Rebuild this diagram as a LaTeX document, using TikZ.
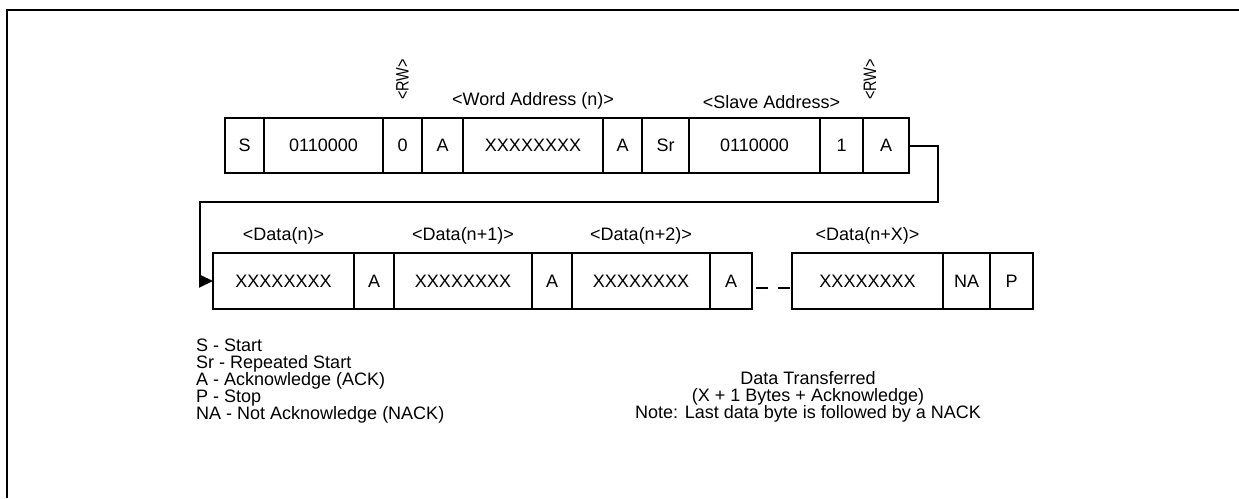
\documentclass[tikz,border=0pt]{standalone}
\usepackage{fontspec}
\setmainfont{Liberation Sans}
\usetikzlibrary{arrows.meta, positioning}
\newcommand{\cellfont}{\fontsize{18}{17}\selectfont}
\tikzset{
  field/.style={rectangle, draw=black, line width=2pt, minimum height=55pt,
    inner sep=0pt, outer sep=0pt, font=\cellfont},
  tag/.style={font=\cellfont, inner sep=0pt},
  arrow/.style={-{Triangle[length=14pt, width=13pt]}, line width=2pt},
  gap/.style={line width=2pt, dash pattern=on 12pt off 10pt}
}

\begin{document}
\begin{tikzpicture}[x=1pt, y=-1pt]
  \useasboundingbox (0,0) rectangle (1239,498);
  \draw[line width=2pt] (7,498) -- (7,10) -- (1239,10);
  % write word address, then repeated start and read
  \node[field, minimum width=39pt, anchor=west] (a1) at (225,145.5) {S};
  \node[field, minimum width=119pt, right=0pt of a1] (a2) {0110000};
  \node[field, minimum width=39pt, right=0pt of a2] (a3) {0};
  \node[field, minimum width=41pt, right=0pt of a3] (a4) {A};
  \node[field, minimum width=140pt, right=0pt of a4] (a5) {XXXXXXXX};
  \node[field, minimum width=39pt, right=0pt of a5] (a6) {A};
  \node[field, minimum width=47pt, right=0pt of a6] (a7) {Sr};
  \node[field, minimum width=131pt, right=0pt of a7] (a8) {0110000};
  \node[field, minimum width=43pt, right=0pt of a8] (a9) {1};
  \node[field, minimum width=46pt, right=0pt of a9] (a10) {A};
  \node[tag, above=18pt of a3, rotate=90, anchor=west] (rw1) {\scalebox{0.8}[1]{<RW>}};
  \node[tag, above=9pt of a5] (wordaddr) {<Word Address (n)>};
  \node[tag, above=9pt of a8, xshift=17pt] (slaveaddr) {<Slave Address>};
  \node[tag, above=18pt of a10, xshift=-16pt, rotate=90, anchor=west] (rw2) {\scalebox{0.8}[1]{<RW>}};
  % data bytes
  \node[field, minimum height=56pt, minimum width=141pt, anchor=west] (b1) at (213,281) {XXXXXXXX};
  \node[field, minimum height=56pt, minimum width=40pt, right=0pt of b1] (b2) {A};
  \node[field, minimum height=56pt, minimum width=138pt, right=0pt of b2] (b3) {XXXXXXXX};
  \node[field, minimum height=56pt, minimum width=40pt, right=0pt of b3] (b4) {A};
  \node[field, minimum height=56pt, minimum width=138pt, right=0pt of b4] (b5) {XXXXXXXX};
  \node[field, minimum height=56pt, minimum width=42pt, right=0pt of b5] (b6) {A};
  \node[field, minimum height=56pt, minimum width=151pt, right=40pt of b6] (b7) {XXXXXXXX};
  \node[field, minimum height=56pt, minimum width=47pt, right=0pt of b7] (b8) {NA};
  \node[field, minimum height=56pt, minimum width=43pt, right=0pt of b8] (b9) {P};
  \node[tag, above=9pt of b1] (dn) {<Data(n)>};
  \node[tag, above=9pt of b3] (dn1) {<Data(n+1)>};
  \node[tag, above=9pt of b5] (dn2) {<Data(n+2)>};
  \node[tag, above=9pt of b7] (dnx) {<Data(n+X)>};
  \draw[arrow] (a10.east) -- ++(29,0) -- ++(0,56) -| ([xshift=-13pt]b1.west) -- (b1.west);
  \draw[gap] ([xshift=4pt, yshift=-7pt]b6.east) -- ([yshift=-7pt]b7.west);
  % legend and notes
  \node[tag, align=left, anchor=north west] (keys) at (196,339)
    {S - Start\\Sr - Repeated Start\\A - Acknowledge (ACK)\\P - Stop\\NA - Not Acknowledge (NACK)};
  \node[tag, align=center] (xfer) at (808,397)
    {Data Transferred\\(X + 1 Bytes + Acknowledge)\\Note: Last data byte is followed by a NACK};
\end{tikzpicture}
\end{document}
